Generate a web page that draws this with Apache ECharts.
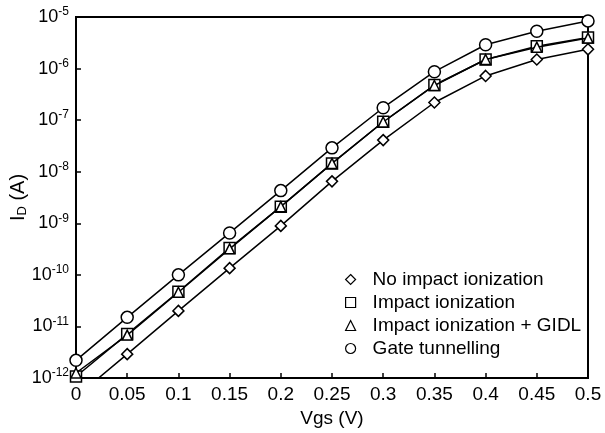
<!DOCTYPE html>
<html>
<head>
<meta charset="utf-8">
<script src="https://cdn.jsdelivr.net/npm/echarts@6/dist/echarts.min.js"></script>
<style>
  html, body {margin: 0; padding: 0; background: #fff;}
  #chart {width: 605px; height: 433px;}
</style>
</head>
<body>
<div id="chart"></div>
<script>
  const vgs = [0, 0.05, 0.1, 0.15, 0.2, 0.25, 0.3, 0.35, 0.4, 0.45, 0.5]
  const noImpact = [4.3e-13, 2.9e-12, 2.0e-11, 1.35e-10, 8.9e-10, 6.5e-9, 4.1e-8, 2.2e-7, 7.2e-7, 1.5e-6, 2.36e-6]
  const impact = [1.07e-12, 7.1e-12, 4.7e-11, 3.3e-10, 2.1e-9, 1.45e-8, 9.3e-8, 4.8e-7, 1.5e-6, 2.7e-6, 4.0e-6]
  const impactGidl = [1.25e-12, 6.8e-12, 4.6e-11, 3.2e-10, 2.1e-9, 1.45e-8, 9.2e-8, 4.7e-7, 1.5e-6, 2.6e-6, 3.9e-6]
  const gateTunnel = [2.2e-12, 1.5e-11, 1.0e-10, 6.5e-10, 4.3e-9, 2.9e-8, 1.74e-7, 8.7e-7, 2.9e-6, 5.3e-6, 8.4e-6]
  const seriesNames = ['No impact ionization', 'Impact ionization', 'Impact ionization + GIDL', 'Gate tunnelling']
  const symbols = ['diamond', 'rect', 'triangle', 'circle']
  const symbolSizes = [11, 11, 10, 12]

  const font = 'Liberation Sans, Arial, Helvetica, sans-serif'
  const chart = echarts.init(document.getElementById('chart'))

  const makeSeries = (name, vals, i) => ({
    name, type: 'line', data: vgs.map((x, k) => [x, vals[k]]),
    symbol: symbols[i], symbolSize: symbolSizes[i], showAllSymbol: true, clip: true,
    lineStyle: {color: '#000', width: 1.5},
    itemStyle: {color: '#fff', borderColor: '#000', borderWidth: 1.5},
    z: 2 + i, animation: false,
  })

  chart.setOption({
    animation: false,
    textStyle: {fontFamily: font},
    grid: {
      left: 76, right: 17, top: 17, bottom: 55, show: true, borderColor: '#000', borderWidth: 2,
      containLabel: false, outerBoundsMode: 'none',
    },
    legend: {
      orient: 'vertical', left: 340, top: 265, itemWidth: 10, itemHeight: 10, itemGap: 4,
      data: seriesNames.map((n, i) => ({name: n, icon: symbols[i]})),
      itemStyle: {borderWidth: 1.2},
      textStyle: {fontFamily: font, fontSize: 19, color: '#000', padding: [0, 0, 0, 12]},
    },
    xAxis: {
      type: 'value', min: 0, max: 0.5, interval: 0.05,
      name: 'Vgs (V)', nameLocation: 'middle', nameGap: 30,
      nameTextStyle: {fontFamily: font, fontSize: 19, color: '#000'},
      axisLine: {lineStyle: {color: '#000', width: 2}},
      axisTick: {inside: true, length: 5, lineStyle: {color: '#000', width: 1.5}},
      splitLine: {show: false},
      axisLabel: {color: '#000', fontSize: 19, margin: 7, formatter: v => String(+v.toFixed(2))},
    },
    yAxis: {
      type: 'log', logBase: 10, min: 1e-12, max: 1e-5,
      name: '{a|I}{s|D}{a| (A)}', nameLocation: 'middle', nameGap: 47, nameRotate: 90,
      nameMoveOverlap: false,
      nameTextStyle: {rich: {
        a: {fontFamily: font, fontSize: 20, color: '#000'},
        s: {fontFamily: font, fontSize: 13, color: '#000', verticalAlign: 'bottom', padding: [8, 0, 0, 0]},
      }},
      axisLine: {lineStyle: {color: '#000', width: 2}},
      axisTick: {inside: true, length: 5, lineStyle: {color: '#000', width: 1.5}},
      splitLine: {show: false},
      axisLabel: {
        margin: 7,
        formatter: v => '{b|10}{s|' + Math.round(Math.log10(v)) + '}',
        rich: {
          b: {fontFamily: font, fontSize: 18, color: '#000'},
          s: {fontFamily: font, fontSize: 12, color: '#000', verticalAlign: 'top', padding: [0, 0, 10, 0]},
        },
      },
    },
    series: [
      makeSeries(seriesNames[0], noImpact, 0),
      makeSeries(seriesNames[1], impact, 1),
      makeSeries(seriesNames[2], impactGidl, 2),
      makeSeries(seriesNames[3], gateTunnel, 3),
    ],
  })
</script>
</body>
</html>
